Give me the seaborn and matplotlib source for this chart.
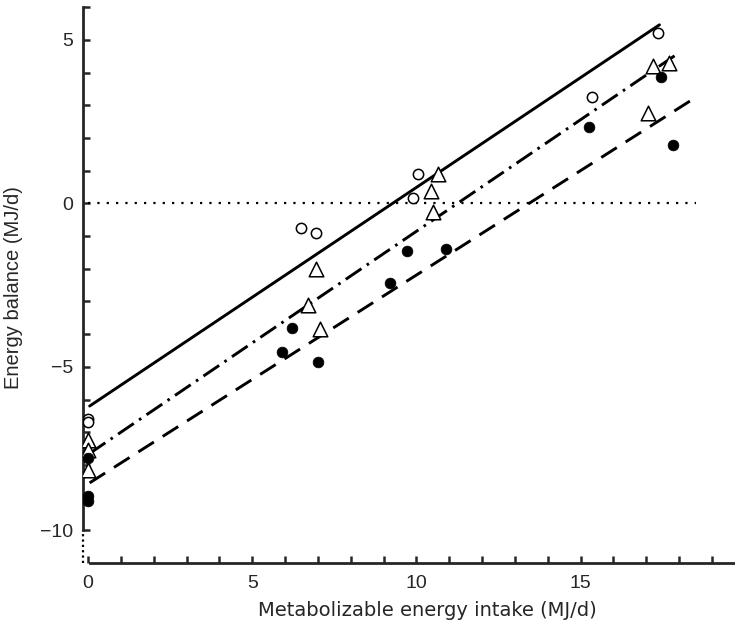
import matplotlib
matplotlib.use('Agg')
import matplotlib.pyplot as plt
import seaborn as sns

# Open circles
open_x = [0, 0, 6.5, 6.95, 9.9, 10.06, 15.35, 17.35]
open_y = [-6.6, -6.7, -0.76, -0.91, 0.15, 0.91, 3.25, 5.2]

# Open triangles
tri_x = [0, 0, 0, 6.7, 6.95, 7.05, 10.45, 10.5, 10.65, 17.05, 17.2, 17.7]
tri_y = [-7.25, -7.55, -8.15, -3.1, -2.0, -3.85, 0.37, -0.25, 0.91, 2.77, 4.2, 4.3]

# Filled circles
fill_x = [0, 0, 0, 5.9, 6.2, 7.0, 9.2, 9.7, 10.9, 15.25, 17.45, 17.8]
fill_y = [-7.8, -8.95, -9.1, -4.55, -3.8, -4.85, -2.45, -1.45, -1.4, 2.35, 3.87, 1.77]

# Regression lines (end points)
solid_x, solid_y = [0.05, 17.4], [-6.2, 5.46]
dashdot_x, dashdot_y = [0.05, 17.9], [-7.65, 4.54]
dashed_x, dashed_y = [0.05, 18.55], [-8.55, 3.27]
zero_x, zero_y = [0, 18.5], [0, 0]

x_labels = [0, 5, 10, 15]
y_labels = [-10, -5, 0, 5]

sns.set_style('ticks')
plt.rcParams['font.family'] = ['Liberation Sans', 'DejaVu Sans']
plt.rcParams['axes.unicode_minus'] = True

fig = plt.figure(figsize=(7.35, 6.25), dpi=100)
ax = fig.add_axes([0.113, 0.0992, 0.887, 0.893])

# Lines
sns.lineplot(x=zero_x, y=zero_y, ax=ax, color='black', lw=1.6,
             linestyle=(0, (1, 3.2)))
sns.lineplot(x=solid_x, y=solid_y, ax=ax, color='black', lw=2.1)
sns.lineplot(x=dashdot_x, y=dashdot_y, ax=ax, color='black', lw=2.1,
             linestyle=(0, (6.5, 2.2, 0.9, 2.2)))
sns.lineplot(x=dashed_x, y=dashed_y, ax=ax, color='black', lw=2.1,
             linestyle=(0, (6.3, 3.6)))

# Points
sns.scatterplot(x=open_x, y=open_y, ax=ax, marker='o', s=55,
                facecolor='white', edgecolor='black', linewidth=1.1, zorder=3)
sns.scatterplot(x=tri_x, y=tri_y, ax=ax, marker='^', s=110,
                facecolor='white', edgecolor='black', linewidth=1.1, zorder=3)
sns.scatterplot(x=fill_x, y=fill_y, ax=ax, marker='o', s=60,
                color='black', edgecolor='black', linewidth=0.5, zorder=4)

# Axes
ax.set_xlim(-0.15, 19.7)
ax.set_ylim(-11, 6.07)
ax.set_xticks(x_labels)
ax.set_xticks(range(0, 20), minor=True)
ax.set_yticks(y_labels)
ax.set_yticks(range(-10, 7), minor=True)
ax.tick_params(which='both', direction='in', length=5, width=1.8,
               labelsize=14)
ax.tick_params(axis='x', pad=9)
ax.tick_params(axis='y', pad=7)
for lab in ax.get_xticklabels() + ax.get_yticklabels():
    lab.set_family('Liberation Sans')

for s in ['top', 'right']:
    ax.spines[s].set_visible(False)
ax.spines['left'].set_bounds(-10, 6)
ax.spines['bottom'].set_bounds(0.05, 19.7)
ax.spines['left'].set_linewidth(2.0)
ax.spines['bottom'].set_linewidth(2.0)
ax.plot([-0.15, -0.15], [-11, -10], color='black', lw=1.6,
        linestyle=(0, (1, 1.4)), clip_on=False)

ax.set_xlabel('Metabolizable energy intake (MJ/d)', fontsize=14,
              family='DejaVu Sans')
ax.set_ylabel('Energy balance (MJ/d)', fontsize=14.5)
ax.xaxis.set_label_coords(0.528, -0.068)
ax.yaxis.set_label_coords(-0.092, 0.493)

fig.savefig('out.png', dpi=100)
